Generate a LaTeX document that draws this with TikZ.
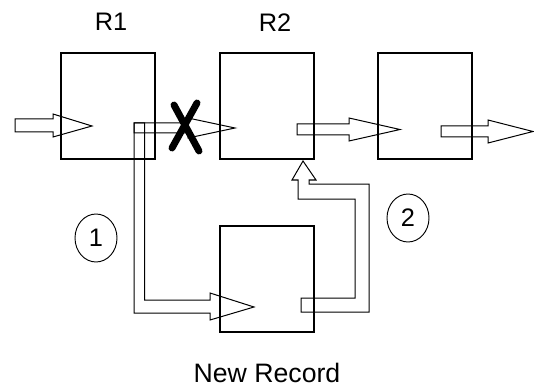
\documentclass[tikz,border=0pt]{standalone}
\usepackage{fontspec}
\setmainfont{Liberation Sans}
\usetikzlibrary{shapes.geometric}
\begin{document}
\begin{tikzpicture}[x=0.75pt,y=-0.75pt,
  recbox/.style={draw, line width=0.9pt, inner sep=0pt, outer sep=0pt, minimum width=70.5pt, minimum height=79.5pt},
  blockarrow/.style={draw, line width=0.75pt, line join=miter},
  lbl/.style={font=\fontsize{19}{23}\selectfont, inner sep=0pt},
  numcirc/.style={draw, line width=0.7pt, ellipse, minimum width=31.5pt, minimum height=36pt, inner sep=0pt, font=\fontsize{19}{23}\selectfont},
  cross/.style={line width=5.2pt, line cap=round}
]
\useasboundingbox (0,0) rectangle (534,388);
% records
\node[recbox] (r1) at (108,106) {};
\node[recbox] (r2) at (267,106) {};
\node[recbox] (r3) at (425,106) {};
\node[recbox] (nr) at (267,279) {};
% labels
\node[lbl] (l1) at (111,22) {R1};
\node[lbl] (l2) at (275,23) {R2};
\node[lbl, font=\fontsize{20}{24}\selectfont] (lnr) at (267,373) {New Record};
\node[numcirc] (c1) at (96,238) {1};
\node[numcirc] (c2) at (408,218) {2};
% input arrow into R1
\draw[blockarrow] (15,119) -- (53,119) -- (53,114) -- (92,126) -- (53,137) -- (53,132) -- (15,132) -- cycle;
% R1 -> R2 (broken)
\draw[blockarrow] (134,123) -- (188,123) -- (188,118) -- (235,128) -- (188,138) -- (188,133) -- (134,133) -- cycle;
% R1 -> new record (1)
\draw[blockarrow] (144.5,123) -- (134,123) -- (134,313) -- (210,313) -- (210,320) -- (254,307) -- (210,293) -- (210,300) -- (144.5,300) -- cycle;
% new record -> R2 (2)
\draw[blockarrow] (301,298) -- (355,298) -- (355,199) -- (298,199) -- (298,180) -- (292,180) -- (303,161) -- (316,180) -- (309,180) -- (309,184) -- (369,184) -- (369,312) -- (301,312) -- cycle;
% R2 -> R3
\draw[blockarrow] (297,124) -- (349,124) -- (349,118) -- (400,129.5) -- (349,141) -- (349,135) -- (297,135) -- cycle;
% R3 -> out
\draw[blockarrow] (441,126) -- (488,126) -- (488,120) -- (533,131.5) -- (488,143) -- (488,137) -- (441,137) -- cycle;
% cross
\draw[cross] (174,105) -- (199,151);
\draw[cross] (197,103) -- (172,148);
\end{tikzpicture}
\end{document}
